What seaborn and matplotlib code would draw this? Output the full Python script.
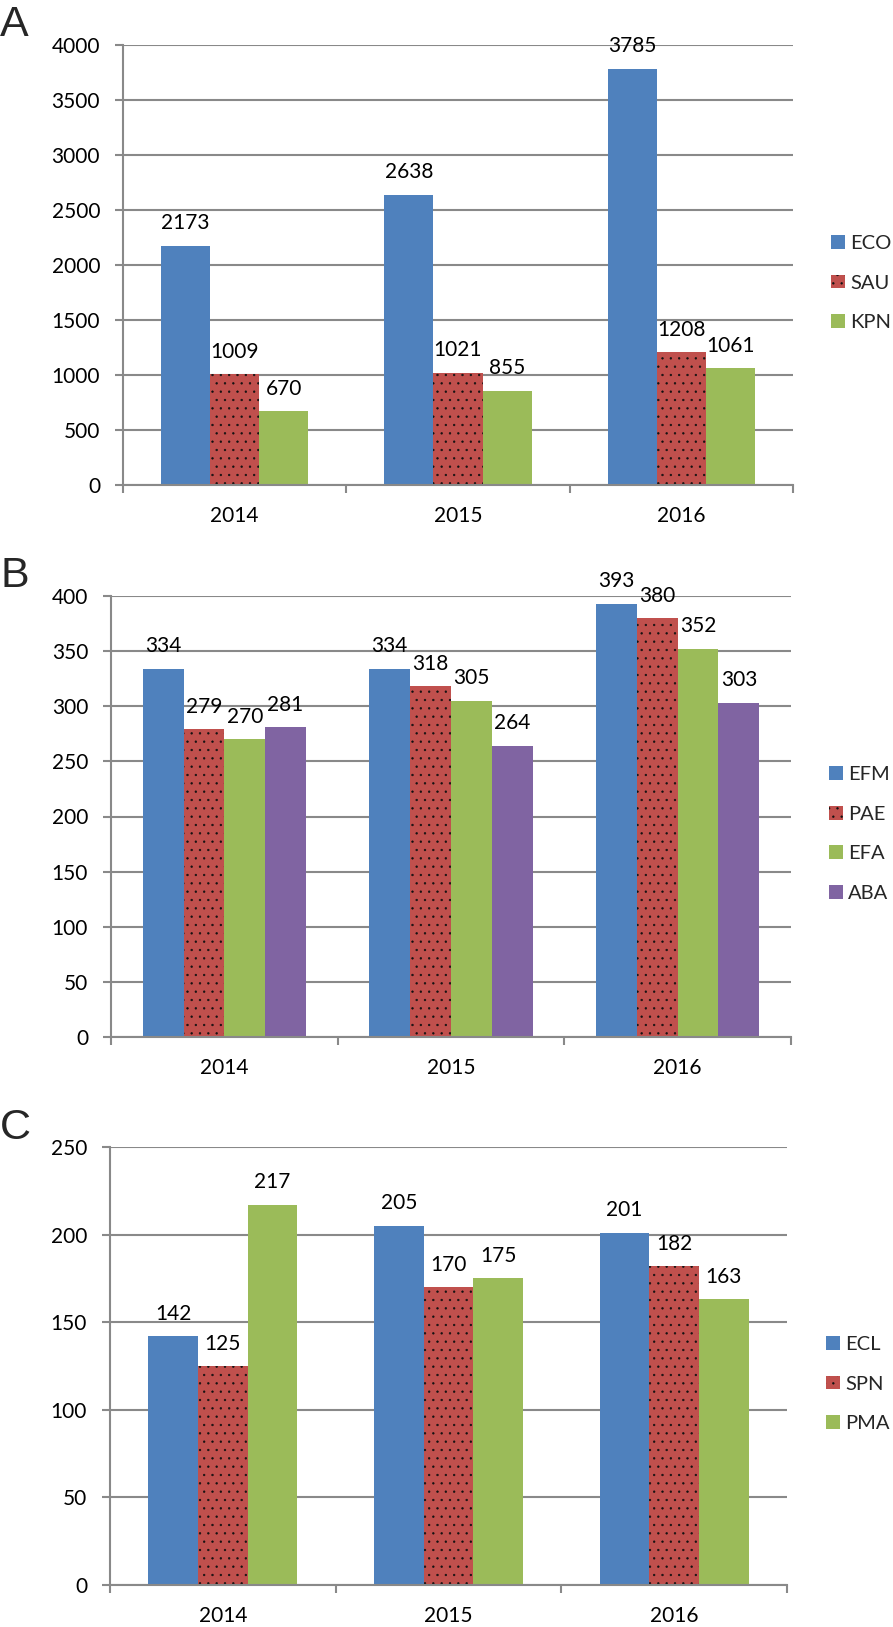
import numpy as np
import pandas as pd
import matplotlib
matplotlib.use('Agg')
import matplotlib.pyplot as plt
import seaborn as sns
from matplotlib.ticker import MultipleLocator

# ---------------- data ----------------
years = ['2014', '2015', '2016']

a_series = ['ECO', 'SAU', 'KPN']
a_eco = [2173, 2638, 3785]
a_sau = [1009, 1021, 1208]
a_kpn = [670, 855, 1061]

b_series = ['EFM', 'PAE', 'EFA', 'ABA']
b_efm = [334, 334, 393]
b_pae = [279, 318, 380]
b_efa = [270, 305, 352]
b_aba = [281, 264, 303]

c_series = ['ECL', 'SPN', 'PMA']
c_ecl = [142, 205, 201]
c_spn = [125, 170, 182]
c_pma = [217, 175, 163]

BLUE, RED, GREEN, PURPLE = '#4F81BD', '#C0504D', '#9BBB59', '#8064A2'


def to_long(series, values):
    rows = []
    for s, vals in zip(series, values):
        for y, v in zip(years, vals):
            rows.append({'year': y, 'series': s, 'value': v})
    return pd.DataFrame(rows)


df_a = to_long(a_series, [a_eco, a_sau, a_kpn])
df_b = to_long(b_series, [b_efm, b_pae, b_efa, b_aba])
df_c = to_long(c_series, [c_ecl, c_spn, c_pma])

# ---------------- style ----------------
sns.set_style('white')
plt.rcParams['font.family'] = ['Lato', 'DejaVu Sans']
plt.rcParams['hatch.linewidth'] = 0.45

W, H = 893, 1627
fig = plt.figure(figsize=(W / 100, H / 100), dpi=100)

GRAY = '#898989'
FS = 15


def add_ax(l, t, r, b):
    return fig.add_axes([l / W, 1 - b / H, (r - l) / W, (b - t) / H])


def panel(ax, df, series, colors, width, ymax, step, leg_x, leg_y, letter, letter_y):
    sns.barplot(data=df, x='year', y='value', hue='series', order=years,
                hue_order=series, palette=colors, width=width, saturation=1,
                errorbar=None, legend=False, linewidth=0, ax=ax)
    # dotted texture on red series
    for p in ax.containers[1]:
        p.set_hatch('..')
        p.set_edgecolor('#111111')
        p.set_linewidth(0)

    ax.set_xlim(-0.5, 2.5)
    ax.set_ylim(0, ymax)
    ax.yaxis.set_major_locator(MultipleLocator(step))
    ax.set_xticks([0, 1, 2])
    ax.set_xticklabels(years)
    ax.set_xticks([-0.5, 0.5, 1.5, 2.5], minor=True)
    ax.tick_params(axis='x', which='major', length=0, pad=15, labelsize=FS,
                   labelcolor='black')
    ax.tick_params(axis='x', which='minor', bottom=True, length=5.5, width=1.5,
                   color=GRAY, direction='out')
    ax.tick_params(axis='y', left=True, length=5.5, width=1.5, color=GRAY,
                   pad=11, labelsize=FS, labelcolor='black', direction='out')
    ax.set_xlabel('')
    ax.set_ylabel('')
    ax.grid(axis='y', color=GRAY, lw=1.5)
    ax.xaxis.grid(False)
    ax.set_axisbelow(True)
    for s in ['top', 'right']:
        ax.spines[s].set_visible(False)
    for s in ['left', 'bottom']:
        ax.spines[s].set_color(GRAY)
        ax.spines[s].set_linewidth(1.5)

    for c in ax.containers:
        ax.bar_label(c, padding=9, fontsize=FS, color='black')

    handles = [c.patches[0] for c in ax.containers]
    fig.legend(handles, series, loc='center left',
               bbox_to_anchor=(leg_x / W, 1 - leg_y / H), frameon=False,
               fontsize=14.5, handlelength=0.68, handleheight=0.68,
               handletextpad=0.28, labelspacing=1.12, borderpad=0,
               borderaxespad=0)

    fig.text(0, 1 - letter_y / H, letter, fontsize=31,
             family='Liberation Sans', va='baseline', ha='left')


ax_a = add_ax(123, 45, 793, 485)
panel(ax_a, df_a, a_series, [BLUE, RED, GREEN], 0.66, 4000, 500,
      831, 283, 'A', 36)

ax_b = add_ax(111, 596, 791, 1037)
panel(ax_b, df_b, b_series, [BLUE, RED, GREEN, PURPLE], 0.72, 400, 50,
      829, 834, 'B', 587)

ax_c = add_ax(110, 1147, 787, 1585)
panel(ax_c, df_c, c_series, [BLUE, RED, GREEN], 0.66, 250, 50,
      826, 1384, 'C', 1139)

fig.savefig('out.png', dpi=100)
